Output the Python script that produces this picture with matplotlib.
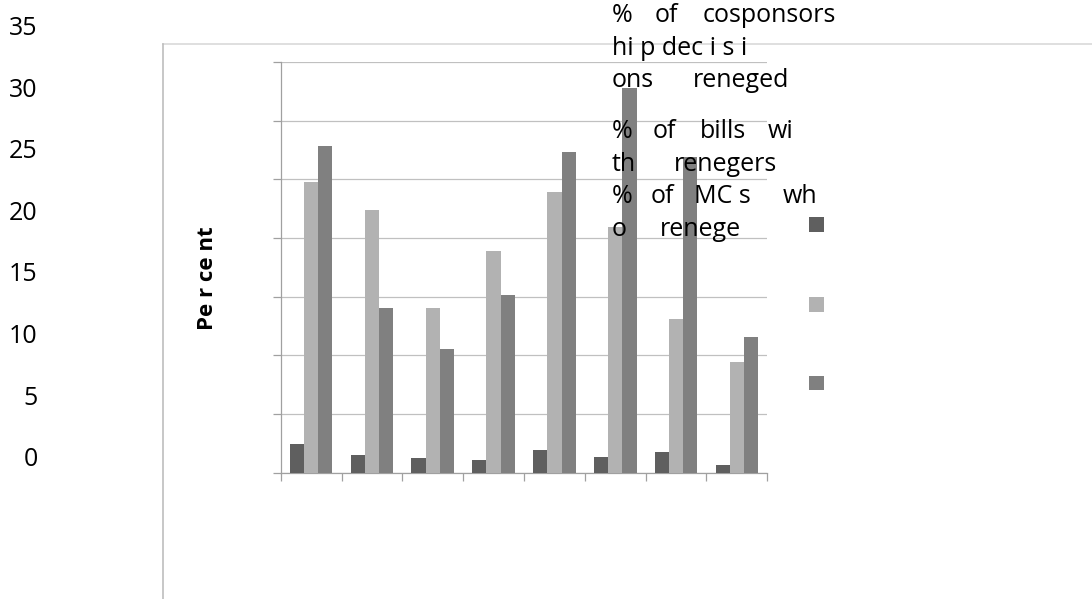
import matplotlib
matplotlib.use("Agg")
import matplotlib.pyplot as plt
import numpy as np
from matplotlib.lines import Line2D
from matplotlib.patches import Rectangle

# ── data ──────────────────────────────────────────────────────────────────────
groups = np.arange(8)
cosponsorship_reneged = [2.4, 1.5, 1.2, 1.05, 1.9, 1.35, 1.75, 0.65]
bills_with_renegers   = [24.8, 22.4, 14.0, 18.9, 23.9, 20.9, 13.05, 9.4]
mcs_who_renege        = [27.85, 14.0, 10.55, 15.1, 27.35, 32.8, 26.85, 11.55]
y_ticks = [0, 5, 10, 15, 20, 25, 30, 35]

# legend text, broken into the fragments it is set in
legend_lines = [
    ["%", "of", "cosponsors"],
    ["hi p dec i s i"],
    ["ons", "reneged"],
    ["%", "of", "bills", "wi"],
    ["th", "renegers"],
    ["%", "of", "MC s", "wh"],
    ["o", "renege"],
]

# ── style ─────────────────────────────────────────────────────────────────────
DARK  = "#5f5f5f"
LIGHT = "#b2b2b2"
MID   = "#808080"
GRID  = "#c0c0c0"
AXIS  = "#a0a0a0"
FONT  = "Open Sans"

W, H = 1092, 599
fig = plt.figure(figsize=(W / 100, H / 100), dpi=100)
fig.patch.set_facecolor("white")


def fx(px):
    return px / W


def fy(py):
    return 1 - py / H


# outer chart frame
fig.add_artist(Line2D([fx(163), fx(W)], [fy(44), fy(44)],
                      color="#d9d9d9", lw=1.2, transform=fig.transFigure))
fig.add_artist(Line2D([fx(163), fx(163)], [fy(44), fy(H)],
                      color="#bdbdbd", lw=1.2, transform=fig.transFigure))

# ── plot area ────────────────────────────────────────────────────────────────
left, right, top, bottom = 280.7, 767.3, 61.5, 472.5
ax = fig.add_axes([fx(left), fy(bottom), (right - left) / W, (bottom - top) / H])
ax.set_facecolor("none")

bw = 0.234
ax.bar(groups - bw, cosponsorship_reneged, bw, color=DARK, zorder=3)
ax.bar(groups, bills_with_renegers, bw, color=LIGHT, zorder=3)
ax.bar(groups + bw, mcs_who_renege, bw, color=MID, zorder=3)

ax.set_xlim(-0.5, 7.5)
ax.set_ylim(0, 35.03)
ax.set_yticks(y_ticks)
ax.set_yticklabels([])
ax.set_xticks(np.arange(-0.5, 8, 1))
ax.set_xticklabels([])
ax.tick_params(axis="both", length=5.8, width=0.9, color=AXIS, direction="out")
ax.yaxis.grid(True, color=GRID, lw=0.9, zorder=0)
ax.set_axisbelow(True)
for side in ("top", "right"):
    ax.spines[side].set_visible(False)
for side in ("left", "bottom"):
    ax.spines[side].set_color(AXIS)
    ax.spines[side].set_linewidth(0.9)

# value labels sit in their own column, offset from the grid
lab_top, lab_bottom = 25.5, 456.7
ax_lab = fig.add_axes([fx(37.7), fy(lab_bottom), 0.0005, (lab_bottom - lab_top) / H])
ax_lab.set_ylim(0, 35)
ax_lab.set_yticks(y_ticks)
ax_lab.set_yticklabels([str(v) for v in y_ticks], fontfamily=FONT, fontsize=18)
ax_lab.tick_params(axis="y", length=0, pad=0)
ax_lab.set_xticks([])
for s in ax_lab.spines.values():
    s.set_visible(False)
ax_lab.patch.set_visible(False)

fig.text(fx(207.5), fy(278.5), "Pe r ce nt", rotation=90, ha="center", va="center",
         fontfamily=FONT, fontweight="bold", fontsize=16)

# ── legend ───────────────────────────────────────────────────────────────────
word_x = [
    [612, 655, 703],
    [612],
    [612, 693],
    [612, 653, 700, 768],
    [612, 674],
    [612, 651, 694, 783],
    [612, 660],
]
baselines = [21.7, 55, 87.3, 138.3, 170.7, 202.7, 235.7]
for words, xs, yb in zip(legend_lines, word_x, baselines):
    for word, x in zip(words, xs):
        fig.text(fx(x), fy(yb), word, ha="left", va="baseline",
                 fontfamily=FONT, fontsize=18, zorder=5)

for color, ytop in zip([DARK, LIGHT, MID], [217, 297, 375.5]):
    fig.add_artist(Rectangle((fx(809), fy(ytop + 14.5)), 14.5 / W, 14.5 / H,
                             facecolor=color, edgecolor="none",
                             transform=fig.transFigure))

fig.savefig("out.png", dpi=100)
